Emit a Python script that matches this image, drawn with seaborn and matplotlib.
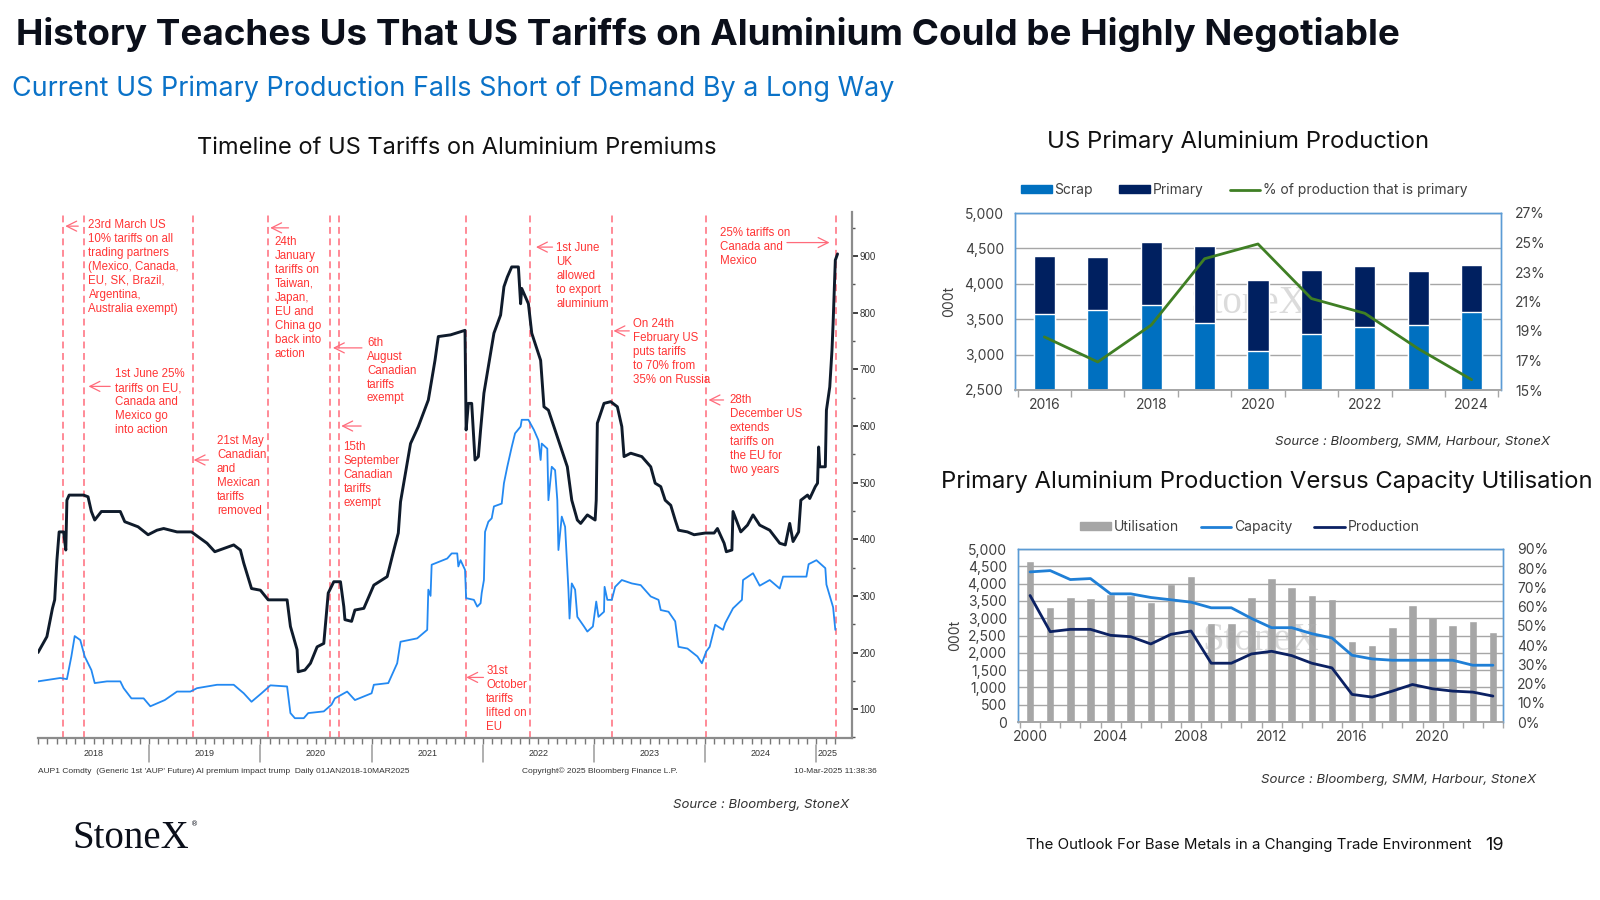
import numpy as np
import pandas as pd
import matplotlib
matplotlib.use("Agg")
import matplotlib.pyplot as plt
import seaborn as sns
from matplotlib.patches import Patch
from matplotlib.lines import Line2D
from matplotlib.ticker import MultipleLocator, FuncFormatter
import matplotlib.transforms as mtransforms

# ---------------- data ----------------
# AUP1 premium (black) and second premium series (blue), decimal years
black_t = [2018.00, 2018.08, 2018.13, 2018.15, 2018.17, 2018.19, 2018.23, 2018.25, 2018.26, 2018.28,
           2018.41, 2018.45, 2018.48, 2018.51, 2018.57, 2018.74, 2018.78, 2018.90, 2018.99, 2019.07,
           2019.13, 2019.25, 2019.38, 2019.52, 2019.59, 2019.76, 2019.82, 2019.85, 2019.92, 2020.00,
           2020.07, 2020.24, 2020.27, 2020.33, 2020.34, 2020.40, 2020.45, 2020.51, 2020.57, 2020.61,
           2020.66, 2020.72, 2020.75, 2020.76, 2020.82, 2020.85, 2020.93, 2021.02, 2021.14, 2021.20,
           2021.24, 2021.26, 2021.35, 2021.42, 2021.51, 2021.57, 2021.60, 2021.71, 2021.84, 2021.85,
           2021.87, 2021.90, 2021.93, 2021.96, 2021.98, 2022.01, 2022.05, 2022.10, 2022.16, 2022.19,
           2022.22, 2022.26, 2022.32, 2022.34, 2022.35, 2022.41, 2022.44, 2022.52, 2022.55, 2022.59,
           2022.67, 2022.76, 2022.80, 2022.85, 2022.88, 2022.94, 2023.01, 2023.02, 2023.03, 2023.09,
           2023.15, 2023.21, 2023.25, 2023.27, 2023.33, 2023.43, 2023.51, 2023.55, 2023.60, 2023.64,
           2023.69, 2023.73, 2023.76, 2023.84, 2023.90, 2024.00, 2024.08, 2024.11, 2024.17, 2024.19,
           2024.24, 2024.25, 2024.32, 2024.38, 2024.43, 2024.49, 2024.58, 2024.67, 2024.72, 2024.76,
           2024.79, 2024.84, 2024.86, 2024.92, 2024.94, 2024.99, 2025.01, 2025.02, 2025.03, 2025.08,
           2025.09, 2025.12, 2025.14, 2025.15, 2025.17, 2025.19]
black_v = [200, 228, 278, 293, 363, 413, 413, 381, 469, 478,
           478, 475, 449, 434, 449, 449, 431, 422, 408, 416,
           419, 413, 413, 393, 378, 390, 381, 358, 313, 310,
           293, 293, 246, 205, 166, 169, 181, 210, 216, 305,
           325, 325, 281, 258, 255, 275, 278, 319, 334, 381,
           411, 466, 569, 599, 646, 716, 758, 761, 769, 593,
           640, 640, 540, 546, 593, 658, 705, 764, 796, 846,
           863, 881, 881, 816, 843, 816, 764, 716, 634, 628,
           581, 528, 469, 434, 428, 443, 434, 469, 605, 640,
           643, 634, 599, 546, 552, 546, 528, 499, 493, 469,
           460, 434, 416, 413, 408, 411, 411, 419, 393, 378,
           381, 449, 413, 425, 443, 425, 416, 393, 390, 428,
           396, 413, 469, 478, 472, 493, 499, 563, 528, 528,
           628, 669, 734, 781, 893, 904]

blue_t = [2018.00, 2018.20, 2018.26, 2018.30, 2018.33, 2018.38, 2018.42, 2018.48, 2018.51, 2018.62,
          2018.74, 2018.77, 2018.84, 2018.95, 2019.01, 2019.14, 2019.25, 2019.37, 2019.43, 2019.61,
          2019.76, 2019.85, 2019.92, 2020.01, 2020.09, 2020.24, 2020.27, 2020.31, 2020.39, 2020.43,
          2020.57, 2020.64, 2020.67, 2020.78, 2020.85, 2021.00, 2021.02, 2021.15, 2021.23, 2021.26,
          2021.41, 2021.50, 2021.51, 2021.53, 2021.54, 2021.68, 2021.72, 2021.77, 2021.78, 2021.80,
          2021.84, 2021.85, 2021.92, 2021.95, 2021.98, 2021.99, 2022.01, 2022.02, 2022.05, 2022.08,
          2022.10, 2022.17, 2022.19, 2022.22, 2022.26, 2022.29, 2022.34, 2022.35, 2022.41, 2022.46,
          2022.50, 2022.52, 2022.53, 2022.58, 2022.59, 2022.62, 2022.65, 2022.67, 2022.68, 2022.71,
          2022.74, 2022.77, 2022.78, 2022.80, 2022.83, 2022.85, 2022.91, 2022.94, 2022.99, 2023.02,
          2023.04, 2023.09, 2023.095, 2023.12, 2023.16, 2023.19, 2023.25, 2023.34, 2023.42, 2023.51,
          2023.58, 2023.60, 2023.67, 2023.73, 2023.76, 2023.84, 2023.93, 2023.97, 2024.01, 2024.04,
          2024.09, 2024.16, 2024.18, 2024.25, 2024.33, 2024.34, 2024.43, 2024.49, 2024.58, 2024.67,
          2024.70, 2024.91, 2024.93, 2025.00, 2025.08, 2025.09, 2025.15, 2025.17]
blue_v = [149, 155, 153, 193, 229, 222, 193, 169, 146, 149,
          149, 137, 119, 119, 105, 116, 131, 131, 137, 143,
          143, 128, 113, 128, 142, 140, 93, 84, 84, 93,
          96, 108, 119, 131, 116, 128, 143, 146, 181, 219,
          225, 240, 311, 300, 355, 366, 375, 375, 352, 363,
          346, 296, 293, 281, 287, 305, 328, 413, 431, 437,
          458, 463, 499, 528, 563, 587, 599, 611, 611, 593,
          575, 540, 569, 560, 469, 528, 522, 469, 381, 440,
          422, 311, 260, 322, 311, 263, 246, 237, 246, 290,
          263, 272, 316, 293, 293, 316, 328, 322, 319, 299,
          293, 275, 272, 255, 210, 207, 193, 181, 202, 210,
          249, 240, 252, 278, 293, 328, 340, 318, 328, 313,
          334, 334, 356, 363, 349, 320, 280, 240]

event_dates = [2018.225, 2018.415, 2019.39, 2020.067, 2020.628, 2020.711,
               2021.848, 2022.424, 2023.161, 2024.006, 2025.178]
event_notes = [
    "23rd March US\n10% tariffs on all\ntrading partners\n(Mexico, Canada,\nEU, SK, Brazil,\nArgentina,\nAustralia exempt)",
    "1st June 25%\ntariffs on EU,\nCanada and\nMexico go\ninto action",
    "21st May\nCanadian\nand\nMexican\ntariffs\nremoved",
    "24th\nJanuary\ntariffs on\nTaiwan,\nJapan,\nEU and\nChina go\nback into\naction",
    "6th\nAugust\nCanadian\ntariffs\nexempt",
    "15th\nSeptember\nCanadian\ntariffs\nexempt",
    "31st\nOctober\ntariffs\nlifted on\nEU",
    "1st June\nUK\nallowed\nto export\naluminium",
    "On 24th\nFebruary US\nputs tariffs\nto 70% from\n35% on Russia",
    "28th\nDecember US\nextends\ntariffs on\nthe EU for\ntwo years",
    "25% tariffs on\nCanada and\nMexico",
]
premium_years = [2018, 2019, 2020, 2021, 2022, 2023, 2024, 2025]

# US primary aluminium production
prod_years = [2016, 2017, 2018, 2019, 2020, 2021, 2022, 2023, 2024]
scrap = [3574, 3630, 3705, 3452, 3044, 3293, 3396, 3424, 3598]
primary = [816, 742, 892, 1088, 1009, 896, 858, 750, 666]
primary_share = [18.6, 16.9, 19.4, 23.9, 24.9, 21.2, 20.2, 17.8, 15.7]

# production vs capacity utilisation
cap_years = list(range(2000, 2024))
utilisation = [83.8, 59.8, 65.1, 64.6, 66.7, 66.1, 62.5, 71.8, 76.0, 51.5, 51.5, 65.1,
               75.1, 70.3, 66.1, 64.2, 42.1, 40.1, 49.6, 60.8, 54.6, 50.3, 52.7, 46.6]
capacity = [4338, 4376, 4117, 4146, 3704, 3704, 3599, 3532, 3464, 3301, 3301, 2994,
            2726, 2726, 2553, 2428, 1929, 1823, 1785, 1785, 1785, 1785, 1641, 1641]
production = [3656, 2610, 2678, 2678, 2505, 2466, 2255, 2534, 2630, 1699, 1699, 1967,
              2044, 1919, 1699, 1564, 797, 720, 893, 1084, 960, 893, 864, 749]

# ---------------- style ----------------
sns.set_theme(style="white")
plt.rcParams["font.family"] = ["Inter", "DejaVu Sans"]
NARROW = ["Liberation Sans Narrow", "Liberation Sans", "DejaVu Sans"]
RED = "#ff3535"
RED_LINE = "#ff6b7b"
GREY_TXT = "#404040"

W, H = 1600, 900
fig = plt.figure(figsize=(16, 9), dpi=100)
fig.patch.set_facecolor("white")


def rect(x0, y0, x1, y1):
    return [x0 / W, 1 - y1 / H, (x1 - x0) / W, (y1 - y0) / H]


def ftext(x, y, s, **kw):
    fig.text(x / W, 1 - y / H, s, **kw)


# headings
ftext(16, 35, "History Teaches Us That US Tariffs on Aluminium Could be Highly Negotiable",
      fontsize=26.5, fontweight="bold", color="#0b0f1a", va="center", ha="left")
ftext(12, 89, "Current US Primary Production Falls Short of Demand By a Long Way",
      fontsize=19.4, color="#0a72c8", va="center", ha="left")
ftext(457, 148, "Timeline of US Tariffs on Aluminium Premiums",
      fontsize=17, color="#111111", va="center", ha="center")
ftext(1238, 142, "US Primary Aluminium Production",
      fontsize=17.2, color="#111111", va="center", ha="center")
ftext(1267, 482, "Primary Aluminium Production Versus Capacity Utilisation",
      fontsize=17.2, color="#111111", va="center", ha="center")

# ---------------- left: premium timeline ----------------
ax = fig.add_axes(rect(38, 212, 852, 738))
sns.lineplot(x=blue_t, y=blue_v, ax=ax, color="#2389f2", lw=1.3, sort=False, estimator=None)
sns.lineplot(x=black_t, y=black_v, ax=ax, color="#0f1b2b", lw=2.1, sort=False, estimator=None)
ax.set_xlim(2018.0, 2025.32)
ax.set_ylim(49, 978)
ax.set_xlabel("")
ax.set_ylabel("")

for d in event_dates:
    ax.axvline(d, color=RED_LINE, lw=1.1, ls=(0, (4.5, 3)), zorder=0)

# note layout: text top-left (year, value), arrow y, arrow tail x, arrow tip x
note_xy = [(2018.454, 966), (2018.694, 702), (2019.609, 584), (2020.127, 936),
           (2020.958, 758), (2020.747, 574), (2022.031, 178), (2022.660, 925),
           (2023.350, 790), (2024.219, 656), (2024.129, 951)]
arrow_y = [953, 670, 540, 950, 738, 600, 156, 916, 768, 646, 924]
arrow_from = [2018.362, 2018.649, 2019.533, 2020.253, 2020.913, 2020.906,
              2022.006, 2022.627, 2023.317, 2024.165, 2024.735]
arrow_to = [2018.245, 2018.454, 2019.40, 2020.088, 2020.652, 2020.727,
            2021.851, 2022.478, 2023.175, 2024.030, 2025.118]
for note, (tx, ty), ay, a0, a1 in zip(event_notes, note_xy, arrow_y, arrow_from, arrow_to):
    ax.text(tx, ty, note, color=RED, fontsize=8.3, family=NARROW, va="top", ha="left",
            linespacing=1.22)
    ax.annotate("", xy=(a1, ay), xytext=(a0, ay),
                arrowprops=dict(arrowstyle="->,head_length=0.6,head_width=0.3",
                                color=RED_LINE, lw=0.9, shrinkA=0, shrinkB=0))

ax.yaxis.tick_right()
ax.set_yticks(range(100, 901, 100))
ax.yaxis.set_minor_locator(MultipleLocator(50))
ax.tick_params(axis="y", which="major", right=True, left=False, length=4, width=1.3,
               color="#333333", labelsize=7, labelcolor="#333333", pad=1.5)
ax.tick_params(axis="y", which="minor", right=True, left=False, length=2.5, width=1,
               color="#555555")
for lab in ax.get_yticklabels():
    lab.set_family(NARROW)
ax.set_xticks([])
months = np.arange(2018, 2025.25, 1 / 12)
ax.set_xticks(months, minor=True)
ax.tick_params(axis="x", which="minor", bottom=True, length=4, width=1, color="#777777",
               direction="out")
for s in ["top", "left"]:
    ax.spines[s].set_visible(False)
for s in ["right", "bottom"]:
    ax.spines[s].set_color("#8c8c8c")
    ax.spines[s].set_linewidth(1.6)

trans = mtransforms.blended_transform_factory(ax.transData, ax.transAxes)
for i, yr in enumerate(premium_years):
    xc = yr + 0.5 if yr < 2025 else 2025.1
    ax.text(xc, -0.03, str(yr), transform=trans, ha="center", va="center",
            fontsize=6.5, family=NARROW, color="#333333")
    if i > 0:
        ax.plot([yr, yr], [-0.013, -0.045], transform=trans, color="#9a9a9a", lw=1.1,
                clip_on=False)
ax.text(0.0, -0.063, "AUP1 Comdty  (Generic 1st 'AUP' Future) Al premium impact trump  "
        "Daily 01JAN2018-10MAR2025", transform=ax.transAxes, ha="left", va="center",
        fontsize=6, family=NARROW, color="#333333")
ax.text(0.595, -0.063, "Copyright\u00a9 2025 Bloomberg Finance L.P.", transform=ax.transAxes,
        ha="left", va="center", fontsize=6, family=NARROW, color="#333333")
ax.text(1.03, -0.063, "10-Mar-2025 11:38:36", transform=ax.transAxes, ha="right",
        va="center", fontsize=6, family=NARROW, color="#333333")

ftext(849, 805, "Source : Bloomberg, StoneX", fontsize=9.5, style="italic",
      color="#333333", ha="right", va="center")

# ---------------- right top: production ----------------
BORDER = "#5b9bd5"
GRID = "#a6a6a6"
yr_lab = [str(y) for y in prod_years]
total = [s + p for s, p in zip(scrap, primary)]

ax1 = fig.add_axes(rect(1015, 213, 1501, 390))
sns.barplot(x=yr_lab, y=total, color="#002060", width=0.4, saturation=1, ax=ax1, zorder=2)
sns.barplot(x=yr_lab, y=scrap, color="#0070c0", width=0.4, saturation=1, ax=ax1, zorder=2)
ax1.set_ylim(2500, 5000)
ax1.set_yticks(range(2500, 5001, 500))
ax1.yaxis.set_major_formatter(FuncFormatter(lambda v, p: f"{int(v):,}"))
ax1.yaxis.grid(True, color=GRID, lw=1)
ax1.set_axisbelow(True)
ax1.set_ylabel("000t", fontsize=10, color=GREY_TXT, labelpad=6)
ax1.set_xlabel("")
ax1.text(0.48, 0.49, "StoneX", transform=ax1.transAxes, fontsize=28, family="Liberation Serif",
         color="#b0b0b0", alpha=0.45, ha="center", va="center", zorder=1)

ax1b = ax1.twinx()
sns.lineplot(x=np.arange(len(prod_years)), y=primary_share, ax=ax1b, color="#3f7f24", lw=2)
ax1b.set_ylim(15, 27)
ax1b.set_yticks(range(15, 28, 2))
ax1b.yaxis.set_major_formatter(FuncFormatter(lambda v, p: f"{int(v)}%"))
ax1b.tick_params(axis="y", labelsize=10, labelcolor=GREY_TXT, length=0, pad=10)
ax1b.set_ylabel("")
ax1.set_xlim(-0.55, 8.55)
ax1.set_xticks(range(0, 9, 2))
ax1.set_xticklabels(yr_lab[::2])
ax1.set_xticks(np.arange(-0.5, 9, 1), minor=True)
ax1.tick_params(axis="x", which="major", length=0, labelsize=10, labelcolor=GREY_TXT, pad=6)
ax1.tick_params(axis="x", which="minor", bottom=True, length=5, color=GRID)
ax1.tick_params(axis="y", labelsize=10, labelcolor=GREY_TXT, length=0, pad=8)
for a in (ax1, ax1b):
    for s in ["left", "top", "right"]:
        a.spines[s].set_color(BORDER)
        a.spines[s].set_linewidth(1)
    a.spines["bottom"].set_color(GRID)
    a.spines["bottom"].set_linewidth(1.2)

h1 = [Patch(color="#0070c0"), Patch(color="#002060"), Line2D([], [], color="#3f7f24", lw=2)]
ax1.legend(h1, ["Scrap", "Primary", "% of production that is primary"], loc="center",
           bbox_to_anchor=(0.472, 1.13), ncol=3, frameon=False, fontsize=10,
           handlelength=2.2, handleheight=0.5, handletextpad=0.2, columnspacing=1.9,
           labelcolor=GREY_TXT)
ftext(1550, 442, "Source : Bloomberg, SMM, Harbour, StoneX", fontsize=9.5, style="italic",
      color="#333333", ha="right", va="center")

# ---------------- right bottom: capacity utilisation ----------------
cy_lab = [str(y) for y in cap_years]
ax2 = fig.add_axes(rect(1018, 549, 1503, 722))
sns.barplot(x=cy_lab, y=utilisation, color="#a6a6a6", width=0.42, saturation=1, ax=ax2)
ax2.set_xlabel("")
ax2.set_ylabel("")

ax2b = ax2.twinx()
sns.lineplot(x=np.arange(len(cap_years)), y=capacity, ax=ax2b, color="#1f7fd6", lw=2)
sns.lineplot(x=np.arange(len(cap_years)), y=production, ax=ax2b, color="#0b2163", lw=2)

# bars (percent) read on the right, lines (000t) on the left
ax2.set_ylim(0, 90)
ax2.set_yticks(range(0, 91, 10))
ax2.yaxis.set_major_formatter(FuncFormatter(lambda v, p: f"{int(v)}%"))
ax2.yaxis.tick_right()
ax2.tick_params(axis="y", labelsize=10, labelcolor=GREY_TXT, length=0, pad=10,
                labelleft=False, labelright=True)
ax2b.set_ylim(0, 5000)
ax2b.set_yticks(range(0, 5001, 500))
ax2b.yaxis.set_major_formatter(FuncFormatter(lambda v, p: f"{int(v):,}"))
ax2b.yaxis.tick_left()
ax2b.yaxis.set_label_position("left")
ax2b.tick_params(axis="y", labelsize=10, labelcolor=GREY_TXT, length=0, pad=8,
                 labelleft=True, labelright=False)
ax2b.yaxis.grid(True, color=GRID, lw=1, zorder=0)
ax2b.set_axisbelow(True)
ax2b.set_ylabel("000t", fontsize=10, color=GREY_TXT, labelpad=4)
ax2b.text(0.5, 0.47, "StoneX", transform=ax2b.transAxes, fontsize=28, family="Liberation Serif",
          color="#b0b0b0", alpha=0.45, ha="center", va="center", zorder=1)
ax2.set_xlim(-0.6, 23.5)
ax2.set_xticks(range(0, 24, 4))
ax2.set_xticklabels(cy_lab[::4])
ax2.set_xticks(np.arange(-0.5, 24, 1), minor=True)
ax2.tick_params(axis="x", which="major", length=0, labelsize=10, labelcolor=GREY_TXT, pad=6)
ax2.tick_params(axis="x", which="minor", bottom=True, length=4, color=GRID)
for a in (ax2, ax2b):
    for s in ["left", "top", "right"]:
        a.spines[s].set_color(BORDER)
        a.spines[s].set_linewidth(1)
    a.spines["bottom"].set_color(GRID)
    a.spines["bottom"].set_linewidth(1.2)

h2 = [Patch(color="#a6a6a6"), Line2D([], [], color="#1f7fd6", lw=2),
      Line2D([], [], color="#0b2163", lw=2)]
ax2b.legend(h2, ["Utilisation", "Capacity", "Production"], loc="center",
            bbox_to_anchor=(0.478, 1.125), ncol=3, frameon=False, fontsize=10,
            handlelength=2.2, handleheight=0.5, handletextpad=0.2, columnspacing=1.6,
            labelcolor=GREY_TXT)
ftext(1536, 780, "Source : Bloomberg, SMM, Harbour, StoneX", fontsize=9.5, style="italic",
      color="#333333", ha="right", va="center")

# ---------------- footer ----------------
ftext(72, 838, "StoneX", fontsize=28, family="Liberation Serif", color="#0b0f1a",
      ha="left", va="center")
ftext(191, 824, "\u00ae", fontsize=5, family="DejaVu Sans", color="#0b0f1a",
      ha="left", va="center")
ftext(1026, 845, "The Outlook For Base Metals in a Changing Trade Environment",
      fontsize=10.8, color="#111111", ha="left", va="center")
ftext(1495, 845, "19", fontsize=13, color="#111111", ha="center", va="center")

fig.savefig("out.png", dpi=100, facecolor="white")
